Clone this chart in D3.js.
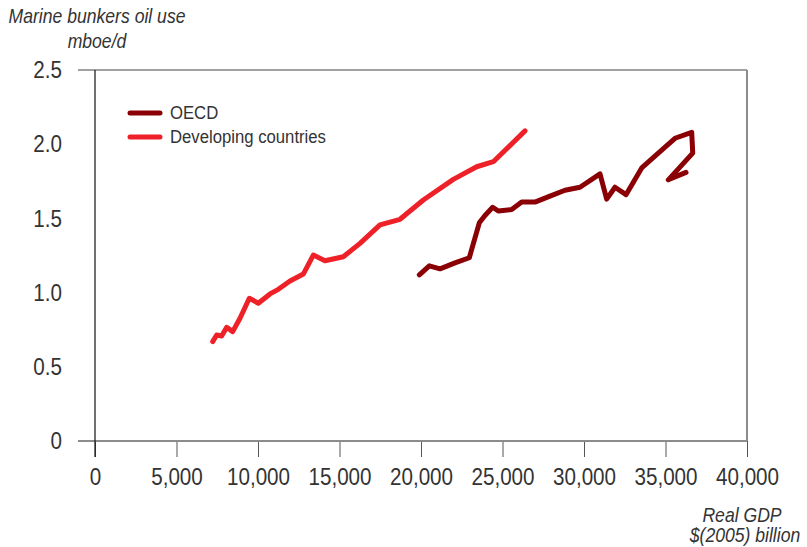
<!DOCTYPE html>
<html>
<head>
<meta charset="utf-8">
<script src="https://cdn.jsdelivr.net/npm/d3@7"></script>
<style>
  html, body { margin: 0; padding: 0; background: #fff; }
  svg { display: block; }
  text { font-family: "Liberation Sans", Arial, sans-serif; fill: #333; }
</style>
</head>
<body>
<svg id="chart" width="807" height="547"></svg>
<script>
// Real GDP, $(2005) billion, against marine bunkers oil use, mboe/d
const oecdGdp = [19898, 20510, 21166, 22086, 22963, 23577, 23926, 24398, 24742, 25563,
  26177, 26993, 27913, 28834, 29754, 30981, 31392, 31902, 32577, 33540,
  34558, 35582, 36608, 36670, 35172, 36258];
const oecdOil = [1.12, 1.18, 1.16, 1.20, 1.235, 1.47, 1.52, 1.575, 1.55, 1.56,
  1.61, 1.61, 1.65, 1.69, 1.71, 1.80, 1.63, 1.71, 1.66, 1.84,
  1.94, 2.04, 2.08, 1.94, 1.76, 1.81];

const devGdp = [7220, 7465, 7770, 8080, 8447, 8896, 9467, 10020, 10737, 11247,
  11963, 12780, 13395, 14110, 15236, 16258, 17485, 18712, 20142, 21982,
  23415, 24436, 26380];
const devOil = [0.67, 0.714, 0.708, 0.766, 0.737, 0.827, 0.962, 0.928, 0.991, 1.022,
  1.078, 1.125, 1.253, 1.215, 1.242, 1.332, 1.456, 1.494, 1.624, 1.763,
  1.848, 1.882, 2.09];

const xTicks = [0, 5000, 10000, 15000, 20000, 25000, 30000, 35000, 40000];
const yTicks = [0, 0.5, 1.0, 1.5, 2.0, 2.5];

const seriesNames = ["OECD", "Developing countries"];
const seriesColors = ["#8a0005", "#ee2129"];

const svg = d3.select("#chart");
const plotLeft = 95, plotRight = 747, plotTop = 70, plotBottom = 441;

const x = d3.scaleLinear().domain([0, 40000]).range([plotLeft, plotRight]);
const y = d3.scaleLinear().domain([0, 2.5]).range([plotBottom, plotTop]);

// Narrow the type horizontally; x positions are divided back so anchors stay put
const K = 0.86;
function condense(sel, k, xPos) {
  sel.attr("transform", `scale(${k},1)`).attr("x", xPos / k);
}

// Frame: top and bottom rules extend slightly left of the axis
svg.append("line").attr("x1", 78).attr("x2", plotRight).attr("y1", plotTop).attr("y2", plotTop)
  .attr("stroke", "#444").attr("stroke-width", 1.2);
svg.append("line").attr("x1", plotRight).attr("x2", plotRight).attr("y1", plotTop).attr("y2", plotBottom)
  .attr("stroke", "#8c8c8c").attr("stroke-width", 2);

// X axis
const xAxis = d3.axisBottom(x).tickValues(xTicks).tickSize(16).tickPadding(10)
  .tickFormat(d3.format(","));
const gx = svg.append("g").attr("transform", `translate(0,${plotBottom})`).call(xAxis);
gx.select(".domain").remove();
gx.selectAll(".tick line").attr("stroke", "#555").attr("stroke-width", 1);
gx.selectAll(".tick text").style("font-size", "24px").attr("fill", "#2a2a2a")
  .attr("dy", "0.75em").call(condense, K, 0);
svg.append("line").attr("x1", 78).attr("x2", plotRight).attr("y1", plotBottom).attr("y2", plotBottom)
  .attr("stroke", "#8c8c8c").attr("stroke-width", 1.8);

// Y axis
const yAxis = d3.axisLeft(y).tickValues(yTicks).tickSize(0).tickPadding(33)
  .tickFormat(d => d === 0 ? "0" : d3.format(".1f")(d));
const gy = svg.append("g").attr("transform", `translate(${plotLeft},0)`).call(yAxis);
gy.select(".domain").remove();
gy.selectAll(".tick text").style("font-size", "24px").attr("fill", "#2a2a2a")
  .call(condense, K, -33);
svg.append("line").attr("x1", plotLeft).attr("x2", plotLeft).attr("y1", plotTop).attr("y2", plotBottom + 16)
  .attr("stroke", "#111").attr("stroke-width", 1.2);

// Axis titles
const tk = 0.88;
const yTitle = svg.append("text").attr("text-anchor", "middle").attr("transform", `scale(${tk},1)`)
  .style("font-style", "italic").style("font-size", "20px");
yTitle.append("tspan").attr("x", 97 / tk).attr("y", 23).text("Marine bunkers oil use");
yTitle.append("tspan").attr("x", 97 / tk).attr("y", 48).text("mboe/d");

const xTitle = svg.append("text").attr("text-anchor", "middle").attr("transform", `scale(${tk},1)`)
  .style("font-style", "italic").style("font-size", "20px");
xTitle.append("tspan").attr("x", 742 / tk).attr("y", 522).text("Real GDP");
xTitle.append("tspan").attr("x", 745 / tk).attr("y", 542).text("$(2005) billion");

// Series lines
const line = d3.line().x(d => x(d[0])).y(d => y(d[1]));
const series = [
  d3.zip(oecdGdp, oecdOil),
  d3.zip(devGdp, devOil)
];
series.forEach((pts, i) => {
  svg.append("path").datum(pts).attr("d", line)
    .attr("fill", "none").attr("stroke", seriesColors[i])
    .attr("stroke-width", 5).attr("stroke-linejoin", "round").attr("stroke-linecap", "round");
});

// Legend
const legend = svg.append("g");
seriesNames.forEach((name, i) => {
  const ly = 113 + i * 24;
  legend.append("line").attr("x1", 130).attr("x2", 160).attr("y1", ly).attr("y2", ly)
    .attr("stroke", seriesColors[i]).attr("stroke-width", 5).attr("stroke-linecap", "round");
  legend.append("text").attr("y", ly + 6.5).style("font-size", "19px")
    .attr("fill", "#333").text(name).call(condense, 0.88, 170);
});
</script>
</body>
</html>
